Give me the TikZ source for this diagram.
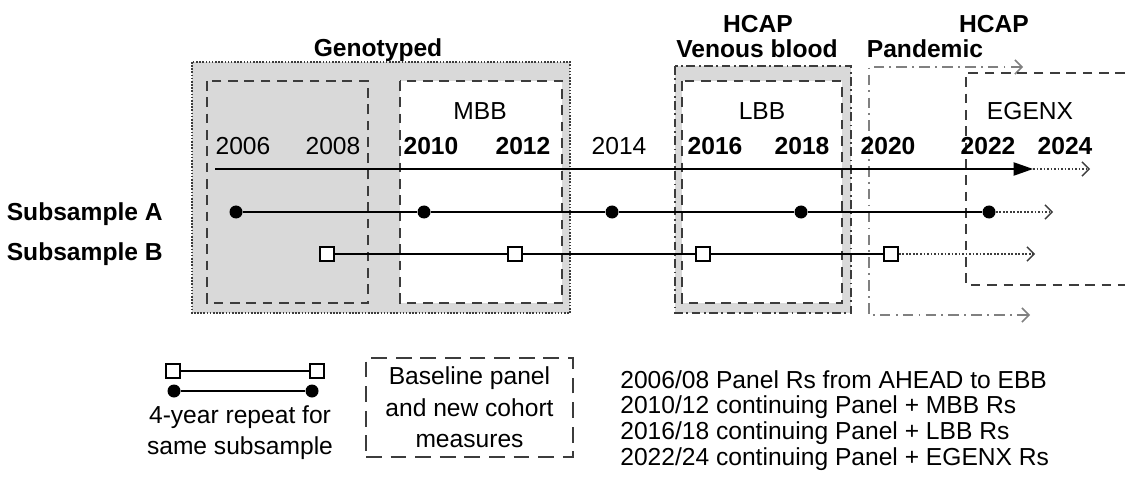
\documentclass[tikz,border=0pt]{standalone}
\usepackage{fontspec}
\setmainfont{Liberation Sans}
\usepackage{xcolor}
\usetikzlibrary{arrows.meta, positioning}
\definecolor{boxgray}{RGB}{217,217,217}
\definecolor{inkgray}{RGB}{60,60,60}
\tikzstyle{genobox} = [draw=inkgray, line width=0.9pt, dash pattern=on 0.9pt off 0.9pt, fill=boxgray]
\tikzstyle{panelbox} = [draw=inkgray, line width=0.85pt, dash pattern=on 5.5pt off 3.8pt]
\tikzstyle{lbbframe} = [draw=inkgray, line width=0.85pt, dash pattern=on 5pt off 2pt on 1pt off 2pt, fill=boxgray]
\tikzstyle{pandemic} = [draw=gray, line width=0.85pt, dash pattern=on 6pt off 3pt on 1pt off 3pt, {Straight Barb[length=4pt,width=8pt]}-{Straight Barb[length=4pt,width=8pt]}]
\tikzstyle{axisline} = [line width=0.8pt, -{Triangle[length=11pt,width=7.5pt]}]
\tikzstyle{track} = [line width=1.2pt]
\tikzstyle{extline} = [inkgray, line width=0.8pt, dash pattern=on 1pt off 1pt, -{Straight Barb[length=4pt,width=8pt]}]
\tikzstyle{dotA} = [circle, fill=black, inner sep=0pt, minimum size=7.4pt]
\tikzstyle{sqB} = [rectangle, draw=black, line width=1.2pt, fill=white, inner sep=0pt, minimum size=7.8pt]
\tikzstyle{yearlbl} = [anchor=base, inner sep=0pt, font=\fontsize{14}{16}\selectfont]
\tikzstyle{boldlbl} = [anchor=base, inner sep=0pt, font=\fontsize{14}{16}\selectfont\bfseries]
\tikzstyle{sublbl} = [anchor=base east, inner sep=0pt, font=\fontsize{14}{16}\selectfont\bfseries]
\tikzstyle{legendbox} = [draw=inkgray, line width=1.1pt, dash pattern=on 9pt off 5pt, minimum width=4.14cm, minimum height=1.98cm, align=center, inner sep=0pt, font=\fontsize{14}{17.9}\selectfont]

\begin{document}
\begin{tikzpicture}[x=0.02cm, y=-0.02cm]
        \useasboundingbox (0,0) rectangle (1125,486);

        % study boxes
        \draw [genobox] (192,62) rectangle (570,313);
        \draw [panelbox] (207,81) rectangle (368,303);
        \draw [panelbox, fill=white] (400,81) rectangle (562,303);
        \draw [lbbframe] (675,66) rectangle (851,313);
        \draw [panelbox, fill=white] (682,81) rectangle (842,303);
        \draw [pandemic] (1023,67) -- (869,67) -- (869,315) -- (1030,315);
        \draw [panelbox] (1125,73) -- (966,73) -- (966,285) -- (1125,285);

        % headings
        \node (geno) [boldlbl] at (378,57) {Genotyped};
        \node (hcap1) [boldlbl] at (758,33) {HCAP};
        \node (venous) [boldlbl] at (757,58) {Venous blood};
        \node (hcap2) [boldlbl] at (994,33) {HCAP};
        \node (pand) [boldlbl] at (925,58) {Pandemic};
        \node (mbb) [yearlbl] at (480,120) {MBB};
        \node (lbb) [yearlbl] at (762,120) {LBB};
        \node (egenx) [yearlbl] at (1030,120) {EGENX};

        % years
        \node (y06) [yearlbl] at (243,155) {2006};
        \node (y08) [yearlbl] at (333,155) {2008};
        \node (y10) [boldlbl] at (431,155) {2010};
        \node (y12) [boldlbl] at (523,155) {2012};
        \node (y14) [yearlbl] at (619,155) {2014};
        \node (y16) [boldlbl] at (715,155) {2016};
        \node (y18) [boldlbl] at (802,155) {2018};
        \node (y20) [boldlbl] at (888,155) {2020};
        \node (y22) [boldlbl] at (988,155) {2022};
        \node (y24) [boldlbl] at (1065,155) {2024};

        % time axis
        \coordinate (t0) at (215,169);
        \coordinate (t1) at (1033,169);
        \coordinate (t2) at (1090,169);
        \draw [axisline] (t0) -- (t1);
        \draw [extline] (t1) -- (t2);

        % subsample A
        \node (subA) [sublbl] at (163,220) {Subsample A};
        \node (a06) [dotA] at (236,212) {};
        \node (a10) [dotA] at (424,212) {};
        \node (a14) [dotA] at (612,212) {};
        \node (a18) [dotA] at (801,212) {};
        \node (a22) [dotA] at (989,212) {};
        \coordinate (aend) at (1053,212);
        \draw [track] (a06) -- (a10) -- (a14) -- (a18) -- (a22);
        \draw [extline] (a22) -- (aend);

        % subsample B
        \node (subB) [sublbl] at (163,260) {Subsample B};
        \node (b08) [sqB] at (327,254) {};
        \node (b12) [sqB] at (515,254) {};
        \node (b16) [sqB] at (703,254) {};
        \node (b20) [sqB] at (891,254) {};
        \coordinate (bend) at (1035,254);
        \draw [track] (b08) -- (b12) -- (b16) -- (b20);
        \draw [extline] (b20) -- (bend);

        % legend
        \node (ls1) [sqB, line width=1pt] at (173,371) {};
        \node (ls2) [sqB, line width=1pt] at (317,371) {};
        \node (ld1) [dotA] at (174,391) {};
        \node (ld2) [dotA] at (312,391) {};
        \draw [line width=1pt] (ls1) -- (ls2);
        \draw [line width=1pt] (ld1) -- (ld2);
        \node (repeat) [anchor=north, align=center, inner sep=0pt, font=\fontsize{14}{18}\selectfont] at (240,405) {4-year repeat for\\same subsample};
        \node (basebox) [legendbox] at (469.5,407.5) {Baseline panel\\and new cohort\\measures};
        \node (waves) [anchor=north west, align=left, inner sep=0pt, font=\fontsize{14}{14.6}\selectfont] at (620,370) {2006/08 Panel Rs from AHEAD to EBB\\2010/12 continuing Panel + MBB Rs\\2016/18 continuing Panel + LBB Rs\\2022/24 continuing Panel + EGENX Rs};
    \end{tikzpicture}
\end{document}
